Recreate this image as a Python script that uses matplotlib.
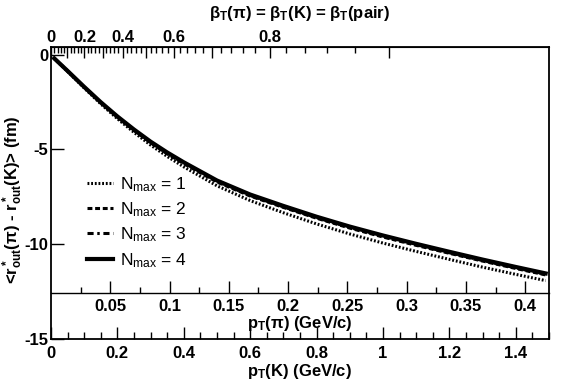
import numpy as np
import matplotlib
matplotlib.use("Agg")
import matplotlib.pyplot as plt
from matplotlib.ticker import FixedLocator

plt.rcParams['font.family'] = ['Liberation Sans', 'DejaVu Sans']
plt.rcParams['font.weight'] = 'bold'
plt.rcParams['axes.labelweight'] = 'bold'
plt.rcParams['mathtext.default'] = 'regular'
plt.rcParams['axes.unicode_minus'] = False

# data
pT_K = [0.01, 0.05, 0.1, 0.15, 0.2, 0.25, 0.3, 0.35, 0.4, 0.5,
        0.6, 0.7, 0.8, 0.9, 1.0, 1.1, 1.2, 1.3, 1.4, 1.49]
nmax1 = [-0.21, -0.89, -1.76, -2.60, -3.38, -4.10, -4.77, -5.37, -5.92, -6.92,
         -7.70, -8.34, -8.93, -9.46, -9.94, -10.38, -10.80, -11.21, -11.59, -11.92]
nmax2 = [-0.20, -0.87, -1.72, -2.54, -3.30, -4.00, -4.65, -5.23, -5.75, -6.72,
         -7.46, -8.06, -8.63, -9.15, -9.62, -10.06, -10.48, -10.89, -11.28, -11.62]
nmax3 = [-0.20, -0.86, -1.71, -2.53, -3.29, -3.98, -4.63, -5.20, -5.72, -6.69,
         -7.43, -8.03, -8.60, -9.12, -9.59, -10.03, -10.45, -10.86, -11.25, -11.59]
nmax4 = [-0.20, -0.86, -1.70, -2.51, -3.26, -3.95, -4.59, -5.16, -5.68, -6.64,
         -7.38, -7.98, -8.55, -9.07, -9.54, -9.98, -10.40, -10.81, -11.20, -11.54]

series = [(nmax1, (0, (0.6, 0.6)), 2.2, r'N$_{max}$ = 1'),
          (nmax2, (0, (1.6, 0.9)), 2.2, r'N$_{max}$ = 2'),
          (nmax3, (0, (2.0, 1.2, 0.8, 1.2)), 2.2, r'N$_{max}$ = 3'),
          (nmax4, '-', 3.0, r'N$_{max}$ = 4')]

m_K = 0.4937        # GeV
pi_over_K = 0.28    # pT(pi)/pT(K) scale of the inner axis
fs = 12

fig = plt.figure(figsize=(5.67, 3.87), dpi=100)
ax = fig.add_axes([0.0899, 0.124, 0.8783, 0.7545])

for y, ls, lw, lab in series:
    ax.plot(pT_K, y, color='black', linestyle=ls, linewidth=lw, label=lab)

ax.set_xlim(0, 1.5)
ax.set_ylim(-15, 0.4)
for s in ax.spines.values():
    s.set_linewidth(1.3)

ax.set_xticks(np.arange(0, 1.41, 0.2))
ax.set_xticklabels(['0', '0.2', '0.4', '0.6', '0.8', '1', '1.2', '1.4'])
ax.xaxis.set_minor_locator(FixedLocator(np.arange(0, 1.51, 0.05)))
ax.set_yticks([-15, -10, -5, 0])
ax.set_yticklabels(['-15', '-10', '-5', '0'])
ax.tick_params(axis='x', which='major', direction='in', length=9, width=1, labelsize=fs, pad=5, top=False)
ax.tick_params(axis='x', which='minor', direction='in', length=5, width=1, top=False)
ax.tick_params(axis='y', which='major', direction='in', length=9, width=1, labelsize=fs, pad=2, right=False)
ax.set_xlabel(r'p$_T$(K) (GeV/c)', fontsize=fs, fontweight='bold', labelpad=1)
ax.set_ylabel(r'<r$^*_{out}$(π) - r$^*_{out}$(K)> (fm)', fontsize=fs, fontweight='bold')
ax.yaxis.set_label_coords(-0.052, 0.476)

# inner pion axis
pi_ax = ax.secondary_xaxis(0.1575, functions=(lambda k: k * pi_over_K, lambda p: p / pi_over_K))
pi_ax.set_xticks(np.arange(0.05, 0.401, 0.05))
pi_ax.set_xticklabels(['0.05', '0.1', '0.15', '0.2', '0.25', '0.3', '0.35', '0.4'])
pi_ax.xaxis.set_minor_locator(FixedLocator(np.arange(0.025, 0.42, 0.025)))
pi_ax.tick_params(which='major', direction='in', length=9, width=1, labelsize=fs, pad=4)
pi_ax.tick_params(which='minor', direction='in', length=4, width=1)
pi_ax.spines['bottom'].set_linewidth(1.0)
pi_ax.set_xlabel(r'p$_T$(π) (GeV/c)', fontsize=fs, fontweight='bold', labelpad=0)


# top beta axis
def k_to_beta(p):
    p = np.asarray(p, dtype=float)
    return p / np.sqrt(p ** 2 + m_K ** 2)


def beta_to_k(b):
    b = np.clip(np.asarray(b, dtype=float), -0.9999, 0.9999)
    return m_K * b / np.sqrt(1 - b ** 2)


top = ax.secondary_xaxis('top', functions=(k_to_beta, beta_to_k))
top.set_xticks(np.arange(0, 0.91, 0.1))
top.set_xticklabels(['0', '', '0.2', '', '0.4', '', '0.6', '', '0.8', ''])
top.xaxis.set_minor_locator(FixedLocator(np.arange(0, 0.901, 0.02)))
top.tick_params(which='major', direction='in', length=8, width=1, labelsize=fs, pad=1.5)
top.tick_params(which='minor', direction='in', length=4, width=1)
fig.text(0.529, 0.964, r'β$_T$(π) = β$_T$(K) = β$_T$(pair)', ha='center', va='center',
         fontsize=fs, fontweight='bold')

ax.legend(loc='upper left', bbox_to_anchor=(0.072, 0.562), frameon=False,
          handlelength=1.5, handletextpad=0.4, labelspacing=0.38, borderpad=0,
          borderaxespad=0, prop={'size': 12.5, 'weight': 'normal'})

fig.savefig('out.png', dpi=100)
